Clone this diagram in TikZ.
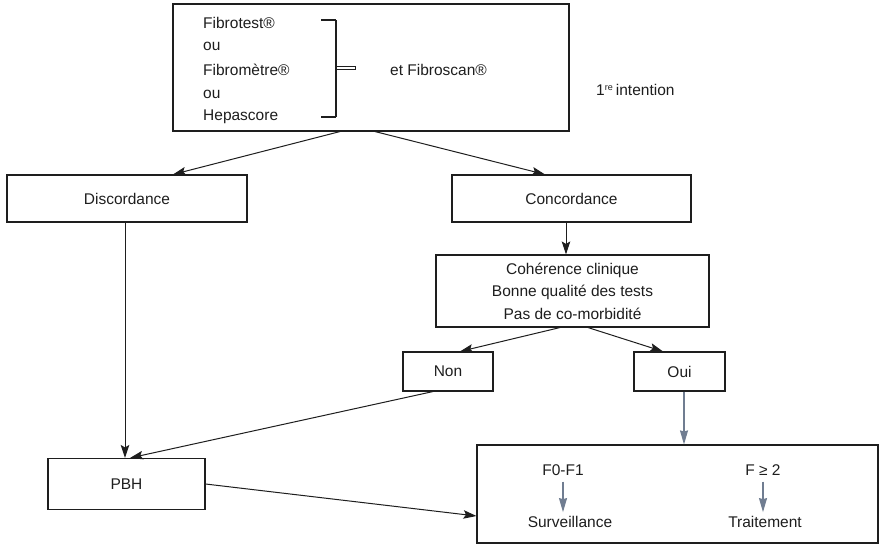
\documentclass[tikz,border=0pt]{standalone}
\usepackage{fontspec}
\setmainfont{Liberation Sans}
\usetikzlibrary{arrows.meta}
\definecolor{ink}{RGB}{30,30,30}
\definecolor{slate}{RGB}{112,125,145}
\begin{document}
\begin{tikzpicture}[x=1pt,y=-1pt,
  every node/.style={font=\fontsize{15.5}{22.5}\selectfont, text=ink, inner sep=0pt},
  box/.style={draw=ink, line width=1.1pt, fill=white},
  arr/.style={draw=ink, line width=1pt, -{Stealth[length=13pt,width=8.5pt,inset=2.5pt]}},
  garr/.style={draw=slate, line width=1.1pt, -{Stealth[length=14pt,width=8pt,inset=1pt]}}]
\useasboundingbox[fill=white] (0,0) rectangle (879,544);

% boxes
\node[box, minimum width=396pt, minimum height=127pt] (top) at (371,67.5) {};
\node[box, minimum width=240pt, minimum height=47pt] (disc) at (127,198.5) {Discordance};
\node[box, minimum width=239pt, minimum height=47pt] (conc) at (571.5,198.5) {Concordance};
\node[box, minimum width=273pt, minimum height=72pt, align=center] (coh) at (572.5,291)
  {Cohérence clinique\\Bonne qualité des tests\\Pas de co-morbidité};
\node[box, minimum width=90pt, minimum height=39pt] (non) at (448,371.5) {Non};
\node[box, minimum width=91pt, minimum height=39pt] (oui) at (679.5,371.5) {Oui};
\node[box, minimum width=157pt, minimum height=51pt] (pbh) at (126.5,484) {PBH};
\node[box, minimum width=401pt, minimum height=98pt] (res) at (677.5,494) {};

% top box texts
\node[anchor=west] (t1) at (203,23) {Fibrotest®};
\node[anchor=west] (t2) at (203,46) {ou};
\node[anchor=west] (t3) at (203,70) {Fibromètre®};
\node[anchor=west] (t4) at (203,94) {ou};
\node[anchor=west] (t5) at (203,117) {Hepascore};
\node[anchor=west] (fs) at (390,70) {et Fibroscan®};
\node[anchor=west] (int) at (596,90) {1\textsuperscript{\fontsize{9}{9}\selectfont re}\,intention};

% bracket
\coordinate (bt) at (336,20);
\coordinate (bb) at (336,117);
\draw[ink, line width=1.1pt] (bt) -- (bb);
\draw[ink, line width=2.4pt] (321,20) -- (bt);
\draw[ink, line width=2.4pt] (321,117) -- (bb);
\draw[ink, line width=0.8pt, fill=white] (336,66.5) rectangle (355,69.5);

% result box texts
\node (f01) at (563,470) {F0-F1};
\node (surv) at (570,522) {Surveillance};
\node (f2) at (763,470) {F ≥ 2};
\node (trait) at (765,522) {Traitement};

% helper coordinates
\coordinate (ouiS) at ([xshift=4.5pt]oui.south);
\coordinate (f01a) at ([yshift=-6pt]f01.south);
\coordinate (f01b) at (f01a |- surv.north);
\coordinate (f2a) at ([yshift=-6pt]f2.south);
\coordinate (f2b) at (f2a |- trait.north);

% connectors
\draw[arr] ([xshift=-31pt]top.south) -- ([xshift=46pt]disc.north);
\draw[arr] ([xshift=4pt]top.south) -- ([xshift=-26.5pt]conc.north);
\draw[arr] ([xshift=-5.5pt]conc.south) -- ([xshift=-6.5pt]coh.north);
\draw[arr] ([xshift=-12.5pt]coh.south) -- ([xshift=12pt]non.north);
\draw[arr] ([xshift=15.5pt]coh.south) -- ([xshift=-16.5pt]oui.north);
\draw[arr] ([xshift=-2pt]disc.south) -- ([xshift=-1.5pt]pbh.north);
\draw[arr] ([xshift=-15pt]non.south) -- ([xshift=3.5pt]pbh.north);
\draw[arr] (pbh.east) -- ([yshift=-22pt]res.west);
\draw[garr] (ouiS) -- (ouiS |- res.north);
\draw[garr] (f01a) -- ([yshift=4pt]f01b);
\draw[garr] (f2a) -- ([yshift=4pt]f2b);
\end{tikzpicture}
\end{document}
